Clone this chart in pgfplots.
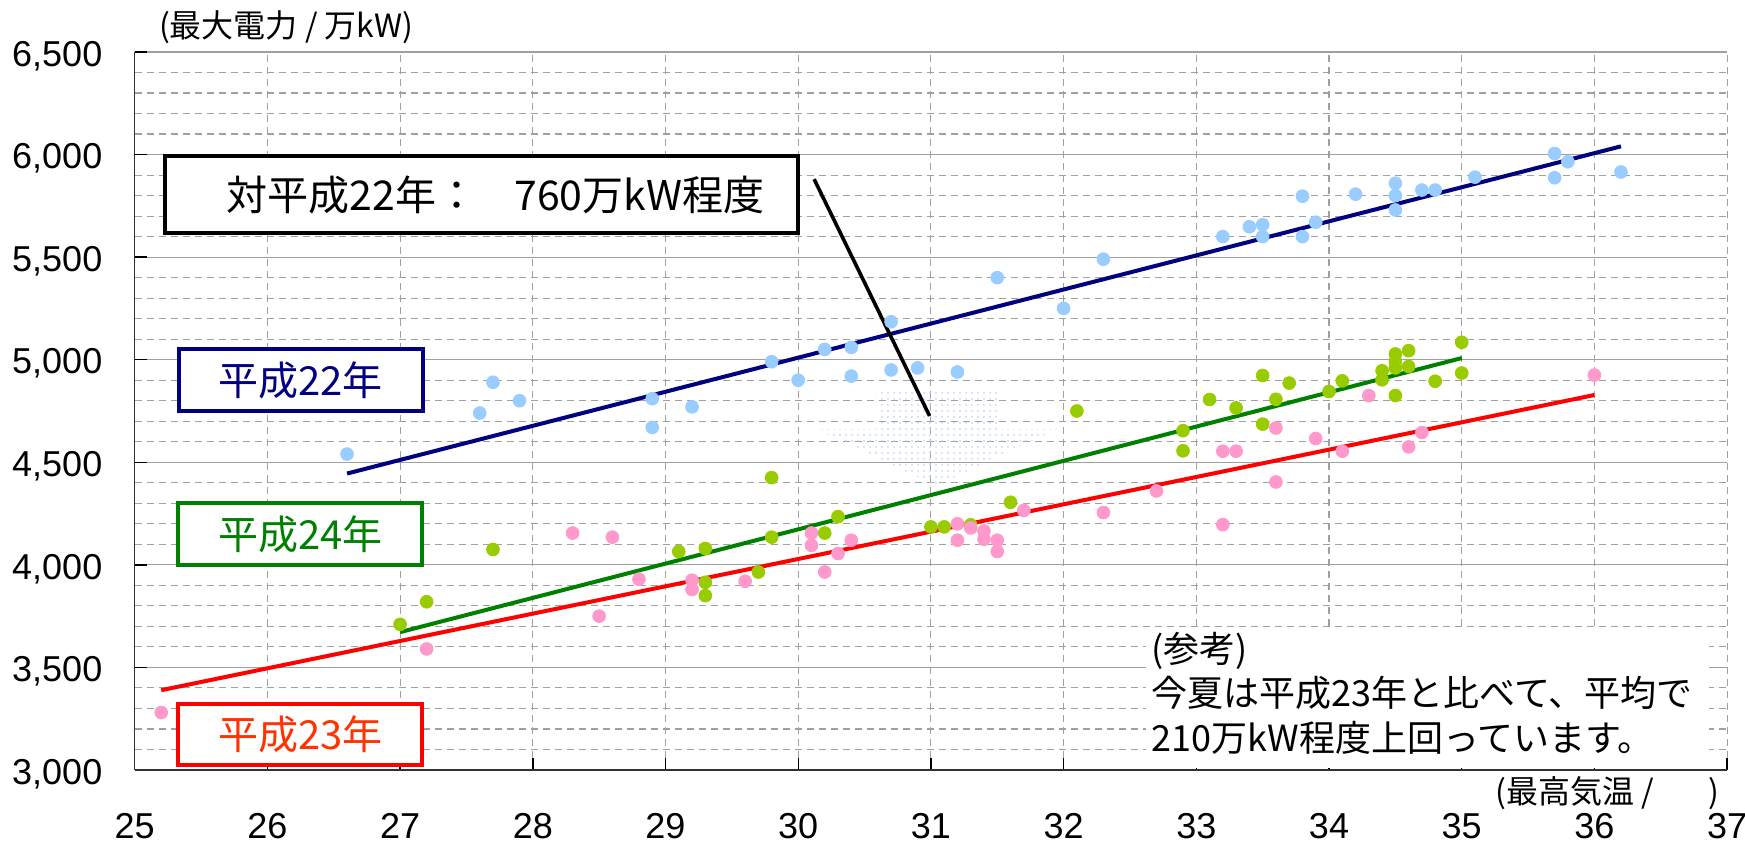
\documentclass[border=0pt]{standalone}
\usepackage{pgfplots}
\pgfplotsset{compat=1.18}
\usetikzlibrary{patterns}
\usepackage{fontspec}
\setmainfont{Noto Sans CJK JP}
\newfontfamily\lat{Liberation Sans}
\definecolor{ptblue}{HTML}{99CCFF}
\definecolor{ptgreen}{HTML}{99CC00}
\definecolor{ptpink}{HTML}{FF99CC}
\definecolor{lnavy}{HTML}{000080}
\definecolor{lgreen}{HTML}{008000}
\definecolor{lred}{HTML}{FF0000}
\definecolor{tred}{HTML}{FF3300}
\definecolor{gridgray}{HTML}{A0A0A0}
\definecolor{arrowblue}{HTML}{C4D2FF}
\begin{document}
\begin{tikzpicture}
\begin{axis}[
  scale only axis, width=796.2pt, height=359pt,
  xmin=25, xmax=37, ymin=3000, ymax=6500,
  xtick={25,26,...,37}, ytick={3000,3500,...,6500},
  minor y tick num=4,
  xmajorgrids, ymajorgrids, yminorgrids,
  major x grid style={gridgray, line width=0.55pt, dash pattern=on 3.5pt off 2.5pt},
  major y grid style={gridgray, line width=0.55pt},
  minor y grid style={gridgray, line width=0.55pt, dash pattern=on 3.5pt off 2.5pt},
  axis x line*=bottom, axis y line*=left,
  axis line style={black!80, line width=0.7pt, -},
  tick align=inside, major tick length=6pt, minor tick length=0pt,
  tick style={black, line width=0.7pt},
  clip=false,
  /pgf/number format/.cd, 1000 sep={,}, assume math mode=true,
  /pgfplots/.cd,
  yticklabel style={font=\lat\fontsize{18}{20}\selectfont, inner sep=0pt, xshift=-16pt, yshift=-2pt},
  xticklabel style={font=\lat\fontsize{18}{20}\selectfont, inner sep=0pt, yshift=-21.5pt},
]
% faint dotted arrow
\fill[pattern=dots, pattern color=arrowblue]
  (axis cs:30.59,4863) -- (axis cs:31.50,4863) -- (axis cs:31.50,4661) -- (axis cs:31.95,4661)
  -- (axis cs:31.04,4386) -- (axis cs:30.14,4661) -- (axis cs:30.59,4661) -- cycle;

% H22 points
\addplot[only marks, mark=*, mark size=3.2pt, color=ptblue] coordinates {
(26.6,4540) (27.6,4740) (27.7,4890) (27.9,4800) (28.9,4810) (28.9,4670) (29.2,4770)
(29.8,4990) (30.0,4900) (30.2,5050) (30.4,5060) (30.4,4920) (30.7,5185) (30.7,4950)
(30.9,4960) (31.2,4940) (31.5,5400) (32.0,5250) (32.3,5490) (33.2,5600) (33.4,5648)
(33.5,5658) (33.5,5600) (33.8,5600) (33.8,5797) (33.9,5670) (34.2,5807) (34.5,5860)
(34.5,5800) (34.5,5730) (34.7,5827) (34.8,5827) (35.1,5890) (35.7,6005) (35.7,5887)
(35.8,5965) (36.2,5915)};

% H24 points
\addplot[only marks, mark=*, mark size=3.2pt, color=ptgreen] coordinates {
(27.0,3710) (27.2,3820) (27.7,4075) (29.1,4065) (29.3,4080) (29.3,3915) (29.3,3850)
(29.7,3965) (29.8,4135) (29.8,4425) (30.2,4155) (30.3,4235) (31.0,4185) (31.1,4185)
(31.3,4195) (31.6,4305) (32.1,4750) (32.9,4654) (32.9,4556) (33.1,4806) (33.3,4765)
(33.5,4923) (33.5,4686) (33.6,4807) (33.7,4886) (34.0,4845) (34.1,4897) (34.4,4946)
(34.4,4902) (34.5,5028) (34.5,4992) (34.5,4960) (34.5,4825) (34.6,5044) (34.6,4967)
(34.8,4895) (35.0,5085) (35.0,4935)};

% H23 points
\addplot[only marks, mark=*, mark size=3.2pt, color=ptpink] coordinates {
(25.2,3280) (27.2,3590) (28.3,4155) (28.5,3750) (28.6,4135) (28.8,3930) (29.2,3925)
(29.2,3880) (29.6,3920) (30.1,4155) (30.1,4095) (30.2,3965) (30.3,4055) (30.4,4120)
(31.2,4200) (31.2,4120) (31.3,4180) (31.4,4165) (31.4,4125) (31.5,4120) (31.5,4065)
(31.7,4265) (32.3,4255) (32.7,4360) (33.2,4554) (33.2,4196) (33.3,4554) (33.6,4667)
(33.6,4404) (33.9,4616) (34.1,4554) (34.3,4825) (34.6,4575) (34.7,4645) (36.0,4925)};

% regression lines
\addplot[lnavy, line width=2pt] coordinates {(26.6,4445) (36.2,6040)};
\addplot[lgreen, line width=2pt] coordinates {(27.0,3672) (35.0,5008)};
\addplot[lred, line width=2pt] coordinates {(25.2,3389) (36.0,4828)};

% annotation line
\draw[black, line width=1.8pt] (axis cs:30.12,5880) -- (axis cs:30.99,4726);

% annotation box
\draw[black, line width=1.8pt, fill=white] (axis cs:25.23,5617) rectangle (axis cs:30.0,5993);
\node[font=\fontsize{20.5}{24}\selectfont, inner sep=0pt] at (axis cs:27.72,5805) {対平成22年：\hspace{0.9em}760万kW程度};

% series labels
\draw[lnavy, line width=2pt, fill=white] (axis cs:25.334,4750) rectangle (axis cs:27.172,5052);
\node[lnavy, font=\fontsize{20}{24}\selectfont, inner sep=0pt] at (axis cs:26.25,4901) {平成22年};
\draw[lgreen, line width=2pt, fill=white] (axis cs:25.324,3997) rectangle (axis cs:27.167,4303);
\node[lgreen, font=\fontsize{20}{24}\selectfont, inner sep=0pt] at (axis cs:26.25,4150) {平成24年};
\draw[lred, line width=2pt, fill=white] (axis cs:25.324,3024) rectangle (axis cs:27.167,3324);
\node[tred, font=\fontsize{20}{24}\selectfont, inner sep=0pt] at (axis cs:26.25,3174) {平成23年};

% note
\fill[white] (axis cs:32.62,3012) rectangle (axis cs:36.86,3685);
\node[anchor=north west, align=left, inner sep=0pt, font=\fontsize{18}{22.3}\selectfont]
  at (axis cs:32.66,3675) {(参考)\\今夏は平成23年と比べて、平均で\\210万kW程度上回っています。};

% axis titles
\node[anchor=west, inner sep=0pt, font=\fontsize{16}{19}\selectfont] at (rel axis cs:0,1) [xshift=12pt, yshift=12.6pt] {(最大電力 / 万kW)};
\node[anchor=east, inner sep=0pt, font=\fontsize{16}{19}\selectfont] at (rel axis cs:1,0) [xshift=-3.5pt, yshift=-11.5pt] {(最高気温 /\hspace{1.7em})};
\end{axis}
\pgfresetboundingbox
\path[use as bounding box] ([shift={(-67.35pt,-36.5pt)}]current axis.south west) rectangle ([shift={(8.95pt,26pt)}]current axis.north east);
\end{tikzpicture}
\end{document}
